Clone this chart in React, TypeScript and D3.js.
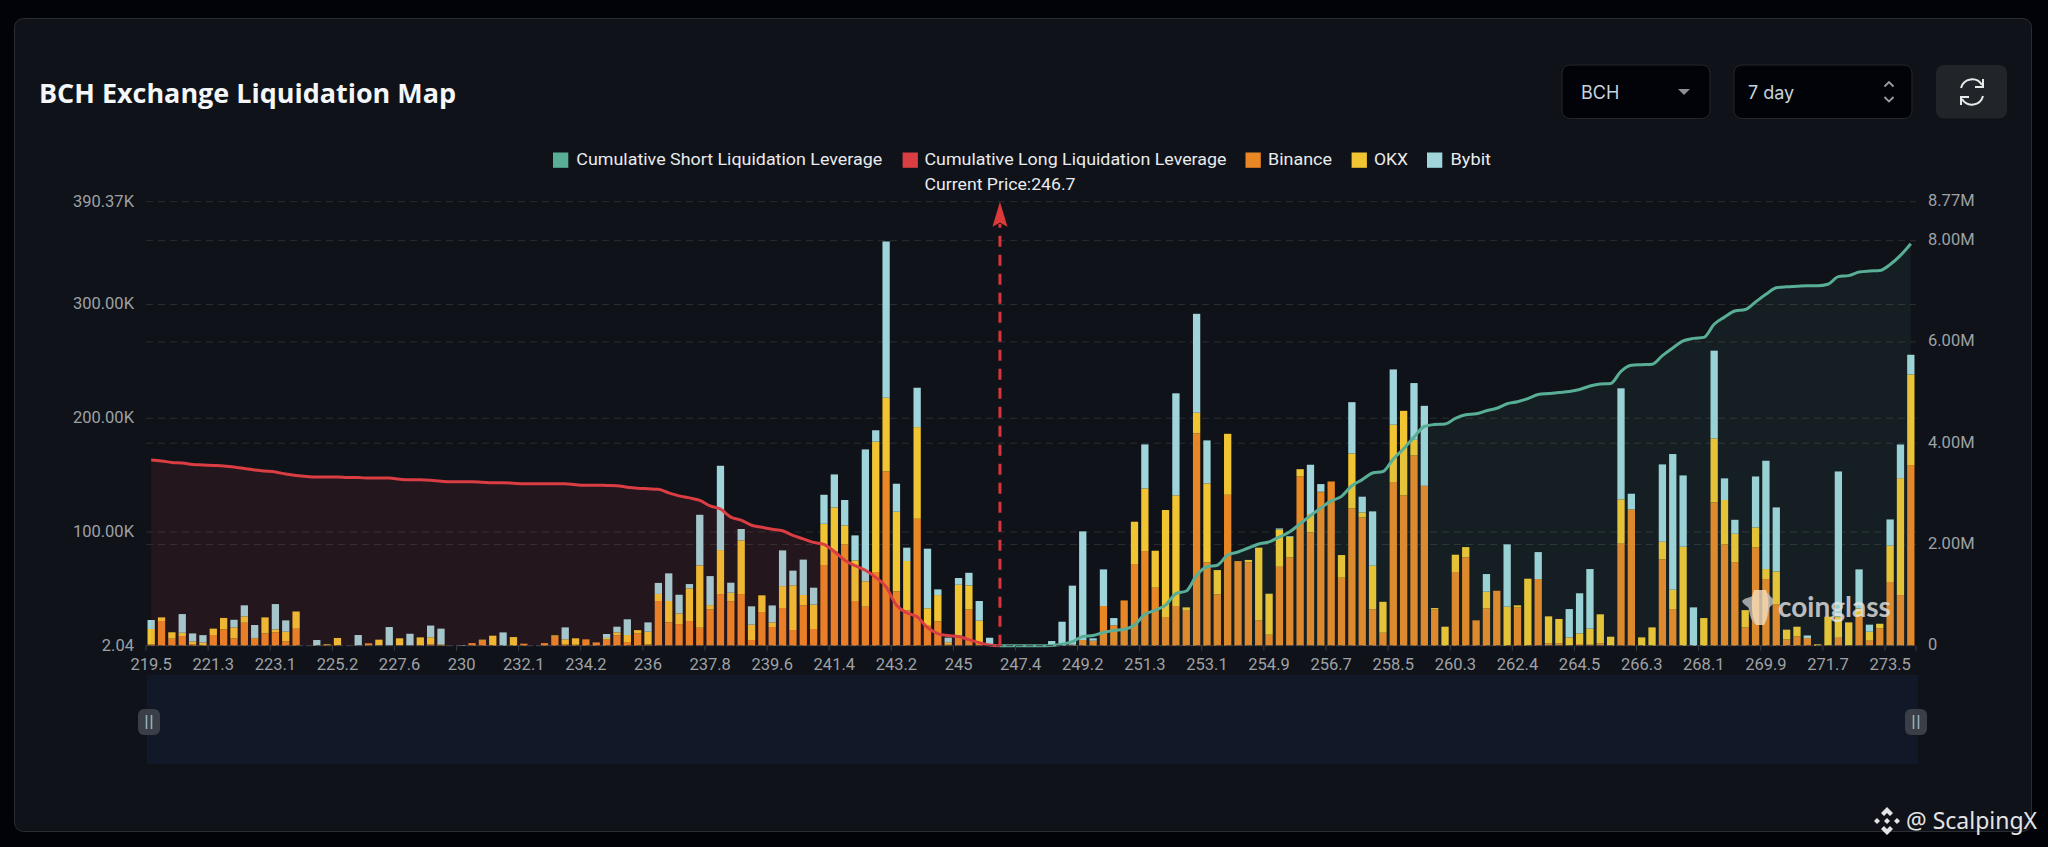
import * as d3 from "d3";

const WIDTH = 2048;
const HEIGHT = 847;

// stacked liquidation leverage per price bucket, in thousands
const binance = [
  1.2, 21.7, 6.2, 8.5, 1.2, 0.6, 9.4, 14.4, 6.4, 20.2,
  6.2, 10.8, 11.7, 3.8, 14.9, 0, 0, 0.6, 0.6, 0,
  0, 2.1, 0.3, 0, 0.6, 0, 0, 1.2, 0.3, 0,
  0, 2.3, 4.4, 0.3, 0, 0, 1.8, 0, 2.3, 7.9,
  1.2, 0.9, 5.6, 2.9, 5.3, 9.1, 3.2, 10.8, 1.2, 39.3,
  20.5, 19.0, 21.7, 15.8, 31.9, 45.4, 39.0, 45.4, 5.0, 29.6,
  16.4, 33.1, 13.8, 35.5, 14.7, 70.9, 82.6, 89.1, 39.3, 34.3,
  64.8, 153.2, 47.8, 31.1, 111.6, 18.2, 21.4, 0.9, 9.1, 31.9,
  1.5, 0, 0, 0, 0, 0, 0, 0, 0, 0.9,
  5.0, 4.4, 34.9, 17.9, 39.8, 71.8, 83.2, 51.0, 25.2, 34.9,
  30.8, 186.6, 73.3, 45.1, 132.7, 74.4, 73.3, 22.3, 9.7, 69.4,
  77.6, 148.8, 99.6, 134.8, 144.4, 59.8, 120.7, 112.8, 31.9, 11.4,
  143.9, 132.1, 167.3, 140.6, 31.9, 0, 64.8, 77.6, 22.3, 32.8,
  48.3, 0, 33.7, 0, 58.6, 2.1, 2.1, 0.3, 1.5, 0.9,
  2.1, 0, 89.7, 119.8, 0, 0, 75.9, 32.2, 0, 0,
  0, 126.0, 89.1, 73.5, 16.1, 86.4, 58.6, 36.6, 5.6, 8.2,
  6.7, 0, 0.6, 7.0, 0, 26.1, 4.4, 15.2, 56.0, 44.5, 158.8,
];

const okx = [
  13.5, 3.2, 5.6, 2.9, 2.6, 2.3, 5.6, 10.0, 9.7, 5.6,
  0.6, 14.1, 2.6, 8.5, 15.2, 0, 0.3, 0.6, 6.2, 0,
  0, 0, 5.0, 0, 5.9, 0, 7.3, 6.2, 0.9, 0,
  0, 0, 0.9, 8.5, 0, 7.6, 0, 0, 0, 1.2,
  4.4, 5.6, 0, 0, 1.5, 2.6, 6.2, 2.9, 11.1, 6.2,
  18.8, 9.4, 28.7, 54.8, 3.8, 38.7, 7.6, 47.2, 13.5, 14.7,
  4.1, 19.3, 39.3, 9.1, 21.4, 36.3, 39.0, 16.7, 35.7, 22.3,
  114.6, 64.8, 70.0, 43.4, 80.6, 14.7, 23.1, 2.1, 44.5, 21.1,
  20.5, 0, 0, 0, 0, 0, 0, 0, 0, 0,
  0, 0, 0, 0, 0, 37.2, 55.1, 32.5, 94.1, 97.3,
  2.9, 18.2, 69.4, 21.4, 53.6, 0, 2.1, 63.9, 36.0, 32.8,
  18.2, 6.4, 16.1, 0.6, 0, 19.9, 48.3, 4.4, 38.4, 27.2,
  50.4, 74.4, 13.8, 0, 1.2, 16.7, 15.2, 9.1, 0, 14.7,
  0, 34.3, 1.8, 58.9, 0, 23.7, 21.4, 7.0, 9.4, 14.1,
  25.5, 7.9, 39.0, 0, 7.3, 16.1, 15.5, 17.0, 87.0, 0,
  24.3, 56.3, 39.0, 24.9, 15.2, 17.6, 8.8, 28.7, 8.5, 8.5,
  0, 1.2, 24.9, 18.5, 20.5, 6.7, 7.9, 4.1, 31.9, 102.8, 79.7,
];

const bybit = [
  7.9, 0, 0, 16.4, 7.0, 6.4, 0, 0, 6.7, 9.7,
  11.4, 0, 22.3, 10.0, 0, 0, 4.7, 0, 0, 0,
  9.4, 0, 0, 16.4, 0, 10.5, 0, 10.3, 13.8, 0,
  0.6, 0, 0, 0, 11.7, 0, 0, 0, 0, 0,
  10.5, 0, 0, 0, 3.5, 5.0, 13.8, 0, 8.2, 9.7,
  24.3, 16.4, 3.8, 44.5, 25.5, 74.1, 8.8, 10.0, 16.1, 0,
  14.9, 31.4, 12.9, 31.1, 14.9, 25.5, 29.0, 22.3, 22.0, 116.0,
  10.0, 137.4, 24.6, 11.7, 34.6, 52.4, 5.0, 4.1, 5.9, 11.1,
  17.3, 7.0, 0, 0, 0, 0, 0, 4.1, 21.1, 51.9,
  95.5, 2.1, 32.2, 6.4, 0, 0, 38.7, 0, 0, 89.7,
  0, 87.0, 37.8, 0, 0, 0, 0, 0, 0, 0.9,
  0.6, 0, 43.4, 6.7, 0, 0, 45.1, 13.8, 47.8, 0,
  48.6, 0, 49.8, 70.3, 0, 0, 0, 0, 0, 15.5,
  0, 54.8, 0, 0, 23.7, 0, 0, 24.9, 35.2, 52.4,
  0, 0, 97.6, 13.8, 0, 0, 68.0, 119.3, 62.7, 33.7,
  0, 77.1, 19.0, 12.3, 0, 44.8, 95.2, 56.3, 0, 0,
  2.3, 0, 0, 127.7, 0, 34.3, 6.2, 0, 23.1, 29.6, 17.3,
];

// cumulative long leverage, millions, bucket 0 up to the current price
const cumulativeLong = [
  3.67, 3.65, 3.62, 3.61, 3.58, 3.57, 3.56, 3.55, 3.53, 3.5,
  3.47, 3.45, 3.43, 3.39, 3.36, 3.34, 3.33, 3.33, 3.33, 3.32,
  3.32, 3.31, 3.31, 3.31, 3.29, 3.28, 3.28, 3.27, 3.25, 3.24,
  3.24, 3.24, 3.23, 3.22, 3.22, 3.21, 3.2, 3.2, 3.2, 3.2,
  3.2, 3.18, 3.17, 3.17, 3.165, 3.16, 3.13, 3.11, 3.1, 3.09,
  3.02, 2.96, 2.92, 2.87, 2.76, 2.7, 2.54, 2.48, 2.38, 2.34,
  2.3, 2.27, 2.18, 2.11, 2.04, 2.0, 1.86, 1.69, 1.58, 1.49,
  1.35, 1.16, 0.8, 0.65, 0.57, 0.36, 0.24, 0.2, 0.18, 0.12,
  0.06, 0.013, 0,
];

// cumulative short leverage, millions, from the current price bucket onward
const cumulativeShort = [
  0, 0, 0, 0, 0, 0.005, 0.03, 0.08,
  0.18, 0.2, 0.26, 0.3, 0.32, 0.41, 0.62, 0.7, 0.8, 1.03,
  1.08, 1.39, 1.56, 1.59, 1.79, 1.85, 1.93, 2.01, 2.05, 2.15,
  2.25, 2.41, 2.57, 2.72, 2.86, 2.95, 3.16, 3.28, 3.41, 3.44,
  3.69, 3.89, 4.12, 4.33, 4.37, 4.38, 4.49, 4.56, 4.58, 4.64,
  4.69, 4.78, 4.82, 4.88, 4.96, 4.98, 5.0, 5.02, 5.06, 5.13,
  5.17, 5.18, 5.42, 5.54, 5.55, 5.56, 5.73, 5.88, 6.02, 6.07,
  6.09, 6.35, 6.49, 6.61, 6.64, 6.79, 6.94, 7.07, 7.09, 7.1,
  7.11, 7.11, 7.14, 7.29, 7.31, 7.38, 7.4, 7.41, 7.53, 7.71, 7.94,
];

const priceLabels = [
  "219.5", "221.3", "223.1", "225.2", "227.6", "230", "232.1", "234.2", "236", "237.8",
  "239.6", "241.4", "243.2", "245", "247.4", "249.2", "251.3", "253.1", "254.9", "256.7",
  "258.5", "260.3", "262.4", "264.5", "266.3", "268.1", "269.9", "271.7", "273.5",
];
const labelEvery = 6;
const currentBucket = 82;

const leftTicks = [2.04e-3, 100, 200, 300, 390.37];
const leftLabels = ["2.04", "100.00K", "200.00K", "300.00K", "390.37K"];
const rightTicks = [0, 2, 4, 6, 8, 8.77];
const rightLabels = ["0", "2.00M", "4.00M", "6.00M", "8.00M", "8.77M"];

const GREEN = "#58ae97";
const RED = "#da3d42";
const ORANGE = "#ea8725";
const YELLOW = "#f1c531";
const BLUE = "#9fd5da";

const exchanges = ["binance", "okx", "bybit"];
const exchangeColors: Record<string, string> = { binance: ORANGE, okx: YELLOW, bybit: BLUE };

const legendItems = [
  { label: "Cumulative Short Liquidation Leverage", color: GREEN, box: 553, text: 576.3, len: 306 },
  { label: "Cumulative Long Liquidation Leverage", color: RED, box: 902.6, text: 924.5, len: 302 },
  { label: "Binance", color: ORANGE, box: 1245.5, text: 1268, len: 64 },
  { label: "OKX", color: YELLOW, box: 1351.6, text: 1374, len: 34 },
  { label: "Bybit", color: BLUE, box: 1427, text: 1450.5, len: 40.5 },
];

const AXIS_FONT = "Roboto, sans-serif";
const BASE_Y = 645.7;
const TOP_Y = 201.7;

export default function App() {
  const x = d3
    .scaleBand<number>()
    .domain(d3.range(binance.length))
    .range([146, 1916])
    .paddingInner(0.295)
    .paddingOuter(0.1475);
  const step = x.step();
  const center = (i: number) => (x(i) as number) + x.bandwidth() / 2;

  const yLeft = d3.scaleLinear().domain([2.04e-3, 390.37]).range([BASE_Y, TOP_Y]);
  const yRight = d3.scaleLinear().domain([0, 8.77]).range([BASE_Y, TOP_Y]);

  const rows = binance.map((b, i) => ({ binance: b, okx: okx[i], bybit: bybit[i] }));
  const stacked = d3.stack<any>().keys(exchanges)(rows);

  const longPts = cumulativeLong.map((v, i) => [center(i), yRight(v)] as [number, number]);
  const shortPts = cumulativeShort.map((v, i) => [center(i + currentBucket), yRight(v)] as [number, number]);

  const line = d3.line().curve(d3.curveMonotoneX);
  const area = d3.area().curve(d3.curveMonotoneX).y0(BASE_Y);

  const priceX = center(currentBucket);
  const tickIdx = priceLabels.map((_, i) => i * labelEvery);

  return (
    <svg
      width={WIDTH}
      height={HEIGHT}
      viewBox={`0 0 ${WIDTH} ${HEIGHT}`}
      style={{ position: "absolute", left: 0, top: 0, background: "#020308" }}
    >
      <rect x={14.5} y={18.5} width={2017} height={813} rx={9} fill="#0f1219" stroke="#2a2e33" />

      <text
        x={39}
        y={103}
        fontFamily="'Open Sans', sans-serif"
        fontWeight={700}
        fontSize={27.5}
        fill="#f4f6f8"
        textLength={417}
        lengthAdjust="spacingAndGlyphs"
      >
        BCH Exchange Liquidation Map
      </text>

      {/* selects */}
      <rect x={1562} y={65} width={148} height={53.5} rx={8} fill="#020308" stroke="#24282d" />
      <text x={1581} y={98.5} fontFamily="'Inter', sans-serif" fontSize={18} fill="#c6d3dc">BCH</text>
      <path d="M1678,89 L1690,89 L1684,95 Z" fill="#8c8f93" />
      <rect x={1734} y={65} width={178} height={53.5} rx={8} fill="#020308" stroke="#24282d" />
      <text x={1748} y={98.5} fontFamily="'Inter', sans-serif" fontSize={18} fill="#c6d3dc">7 day</text>
      <path d="M1884.5,86.5 L1889,82 L1893.5,86.5 M1884.5,97 L1889,101.5 L1893.5,97" fill="none" stroke="#9a9da1" strokeWidth={1.8} />
      <rect x={1936} y={65} width={71} height={53.5} rx={8} fill="#212529" />
      <path
        d="M1961,88 A11.5,11.5 0 0 1 1982,85 M1983,96 A11.5,11.5 0 0 1 1962,99 M1983,79 L1983,87 L1975,87 M1961,105 L1961,97 L1969,97"
        fill="none"
        stroke="#e6e8ea"
        strokeWidth={2}
      />

      {/* legend */}
      {legendItems.map((d) => (
        <g key={d.label}>
          <rect x={d.box} y={152.5} width={15.3} height={15.3} fill={d.color} />
          <text
            x={d.text}
            y={165}
            fontFamily={AXIS_FONT}
            fontSize={16.5}
            fill="#e9ebed"
            textLength={d.len}
            lengthAdjust="spacingAndGlyphs"
          >
            {d.label}
          </text>
        </g>
      ))}
      <text x={924.5} y={189.5} fontFamily={AXIS_FONT} fontSize={16.5} fill="#e9ebed" textLength={151} lengthAdjust="spacingAndGlyphs">
        Current Price:246.7
      </text>

      {/* grid */}
      {leftTicks.slice(1).map((t) => (
        <line key={`l${t}`} x1={146} x2={1916} y1={yLeft(t)} y2={yLeft(t)} stroke="#2b2e31" strokeDasharray="7 5" />
      ))}
      {rightTicks.slice(1, 5).map((t) => (
        <line key={`r${t}`} x1={146} x2={1916} y1={yRight(t)} y2={yRight(t)} stroke="#2b2e31" strokeDasharray="7 5" />
      ))}

      {/* bars */}
      {stacked.map((layer) => (
        <g key={layer.key} fill={exchangeColors[layer.key]}>
          {layer.map((d, i) =>
            d[1] - d[0] > 0 ? (
              <rect
                key={i}
                x={x(i)}
                y={yLeft(d[1])}
                width={x.bandwidth()}
                height={Math.max(yLeft(d[0]) - yLeft(d[1]), 0.5)}
              />
            ) : null
          )}
        </g>
      ))}

      {/* cumulative areas and lines */}
      <path d={area(longPts) as string} fill={RED} fillOpacity={0.1} />
      <path d={area(shortPts) as string} fill={GREEN} fillOpacity={0.085} />
      <path d={line(longPts) as string} fill="none" stroke={RED} strokeWidth={3} />
      <path d={line(shortPts) as string} fill="none" stroke={GREEN} strokeWidth={3} />

      {/* x axis */}
      <line x1={146} x2={1916} y1={BASE_Y} y2={BASE_Y} stroke="#43464a" strokeDasharray="7 3" />
      {tickIdx.map((i) => (
        <line key={i} x1={146 + i * step} x2={146 + i * step} y1={BASE_Y} y2={BASE_Y + 5} stroke="#3a3d41" />
      ))}
      <line x1={1916} x2={1916} y1={BASE_Y} y2={BASE_Y + 5} stroke="#3a3d41" />
      {priceLabels.map((t, i) => (
        <text
          key={t}
          x={center(tickIdx[i])}
          y={670}
          textAnchor="middle"
          fontFamily={AXIS_FONT}
          fontSize={16.5}
          fill="#9ea1a5"
        >
          {t}
        </text>
      ))}

      {/* y axes */}
      {leftTicks.map((t, i) => (
        <text key={t} x={134} y={yLeft(t) + 5} textAnchor="end" fontFamily={AXIS_FONT} fontSize={16.5} fill="#9ea1a5">
          {leftLabels[i]}
        </text>
      ))}
      {rightTicks.map((t, i) => (
        <text key={t} x={1928} y={yRight(t) + 4.5} fontFamily={AXIS_FONT} fontSize={16.5} fill="#9ea1a5">
          {rightLabels[i]}
        </text>
      ))}

      {/* current price marker */}
      <line x1={priceX} x2={priceX} y1={BASE_Y} y2={224} stroke="#d8353b" strokeWidth={3} strokeDasharray="11 8" />
      <path
        d={`M${priceX},${TOP_Y} L${priceX + 7.5},${TOP_Y + 25} L${priceX},${TOP_Y + 21} L${priceX - 7.5},${TOP_Y + 25} Z`}
        fill="#dc3a3a"
      />

      {/* zoom slider */}
      <rect x={147} y={675} width={1771} height={89} fill="#111828" />
      {[149, 1916].map((hx) => (
        <g key={hx}>
          <rect x={hx - 11} y={709} width={22} height={26} rx={6} fill="#3a3f47" />
          <path d={`M${hx - 2.5},715 V729 M${hx + 2.5},715 V729`} stroke="#8fb0b8" strokeWidth={1.6} />
        </g>
      ))}

      {/* coinglass watermark */}
      <g opacity={0.8}>
        <path
          d="M1742,601 C1746,597 1750,598 1752,596 C1754,590 1768,590 1770,596 C1772,598 1775,600 1774,603 C1772,606 1769,606 1769,610 C1768,616 1766,626 1760,625 C1752,626 1750,616 1749,610 C1749,606 1744,606 1742,601 Z"
          fill="#c2c2c2"
        />
        <path
          d="M1754,590 L1766,590 C1770,600 1768,618 1764,625 L1756,625 C1752,618 1750,600 1754,590 Z"
          fill="#f3dfc0"
        />
        <text x={1778} y={617} fontFamily="Lato, sans-serif" fontWeight={700} fontSize={28} fill="#e4e4e4">
          coinglass
        </text>
      </g>

      {/* repost tag */}
      <g fill="#e4e4e4">
        <path d="M1887,807 L1893,813 L1890,816 L1887,813 L1884,816 L1881,813 Z" />
        <path d="M1887,835 L1893,829 L1890,826 L1887,829 L1884,826 L1881,829 Z" />
        <path d="M1887,818 L1890,821 L1887,824 L1884,821 Z" />
        <path d="M1877,818 L1880,821 L1877,824 L1874,821 Z" />
        <path d="M1897,818 L1900,821 L1897,824 L1894,821 Z" />
        <text x={1906} y={829} fontFamily="'Noto Sans', sans-serif" fontSize={23}>@ ScalpingX</text>
      </g>
    </svg>
  );
}
